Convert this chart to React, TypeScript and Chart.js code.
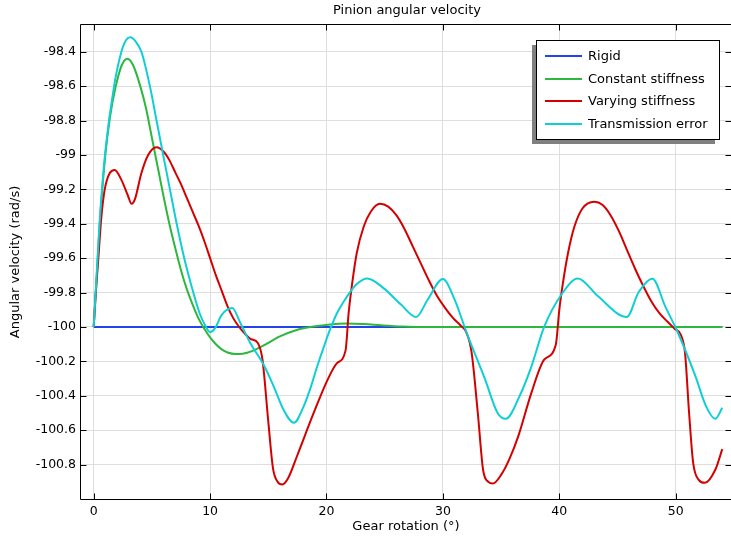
import React, { useEffect, useRef } from 'react';
import { Chart, registerables } from 'chart.js';

Chart.register(...registerables);

const chartTitle = 'Pinion angular velocity';
const xAxisTitle = 'Gear rotation (°)';
const yAxisTitle = 'Angular velocity (rad/s)';

const seriesNames = ['Rigid', 'Constant stiffness', 'Varying stiffness', 'Transmission error'];
const seriesColors = ['#2244ee', '#2db83d', '#d40000', '#10cfd4'];

const xTicks = [0, 10, 20, 30, 40, 50];
const yTicks = [-98.4, -98.6, -98.8, -99, -99.2, -99.4, -99.6, -99.8, -100, -100.2, -100.4, -100.6, -100.8];

const rigidX = [0, 54];
const rigidY = [-100, -100];

const constX = [0, 0.2, 0.5, 1.0, 1.4, 1.9, 2.4, 2.9, 3.4, 4.0, 4.5, 5.0, 5.5, 6.0, 6.5, 7.0, 7.5, 8.0, 8.5, 9.0, 9.5, 10.0, 10.5, 11.0, 11.5, 12.2, 12.8, 13.6, 14.6, 16.0, 17.5, 18.9, 20.3, 21.7, 23.2, 24.7, 26.5, 28, 54];
const constY = [-100, -99.78, -99.42, -99.0, -98.78, -98.6, -98.48, -98.44, -98.48, -98.6, -98.73, -98.9, -99.07, -99.24, -99.4, -99.54, -99.67, -99.78, -99.87, -99.95, -100.01, -100.06, -100.1, -100.13, -100.148, -100.157, -100.155, -100.14, -100.107, -100.055, -100.016, -99.997, -99.985, -99.98, -99.983, -99.99, -99.997, -100, -100];

const varyX = [0, 0.2, 0.37, 0.66, 0.95, 1.38, 1.81, 2.38, 2.96, 3.25, 3.53, 4.1, 4.68, 5.4, 6.0, 6.5, 7.0, 7.5, 8.0, 8.5, 9.0, 9.5, 10.0, 10.5, 11.0, 11.5, 12.0, 12.5, 13.0, 13.5, 14.1, 14.5, 15.0, 15.4, 15.8, 16.2, 16.7, 17.47, 18.9, 20.1, 20.9, 21.64, 21.9, 22.2, 22.6, 23.2, 23.8, 24.6, 25.3, 26.0, 26.7, 27.4, 28.1, 28.8, 29.5, 30.2, 30.9, 31.5, 32.0, 32.45, 33.0, 33.45, 33.9, 34.3, 35.0, 35.7, 36.5, 37.6, 38.7, 39.7, 40.0, 40.3, 40.75, 41.3, 42.0, 43.0, 43.7, 44.4, 45.1, 45.8, 46.5, 47.2, 47.9, 48.6, 49.3, 49.9, 50.43, 50.8, 51.15, 51.5, 52.0, 52.5, 53.4, 54];
const varyY = [-100, -99.78, -99.63, -99.36, -99.2, -99.105, -99.087, -99.145, -99.24, -99.284, -99.26, -99.105, -99.0, -98.955, -98.98, -99.03, -99.1, -99.17, -99.25, -99.33, -99.41, -99.5, -99.6, -99.7, -99.79, -99.88, -99.95, -100.0, -100.04, -100.07, -100.093, -100.19, -100.55, -100.82, -100.9, -100.916, -100.88, -100.75, -100.5, -100.306, -100.21, -100.136, -99.92, -99.75, -99.57, -99.416, -99.33, -99.284, -99.3, -99.35, -99.43, -99.53, -99.63, -99.73, -99.82, -99.89, -99.95, -99.99, -100.03, -100.14, -100.5, -100.83, -100.9, -100.91, -100.86, -100.77, -100.63, -100.383, -100.19, -100.103, -99.9, -99.75, -99.57, -99.416, -99.31, -99.272, -99.29, -99.35, -99.44, -99.55, -99.66, -99.76, -99.85, -99.92, -99.97, -100.01, -100.045, -100.15, -100.5, -100.79, -100.89, -100.906, -100.83, -100.71];

const transX = [0, 0.2, 0.5, 1.0, 1.75, 2.38, 2.8, 3.16, 3.6, 4.1, 4.83, 5.4, 5.97, 6.55, 7.13, 7.78, 8.56, 9.1, 9.57, 10.0, 10.4, 11.0, 11.9, 12.6, 13.45, 14.6, 15.46, 16.3, 17.2, 18.05, 18.6, 19.2, 19.8, 20.3, 20.9, 21.5, 22.1, 22.6, 23.5, 24.9, 26.4, 27.7, 28.7, 30.0, 31.0, 32.1, 33.6, 34.7, 35.4, 36.6, 37.6, 38.7, 40.2, 41.6, 43.3, 45.8, 46.8, 48.0, 49.1, 50.2, 51.7, 52.6, 53.4, 54];
const transY = [-100, -99.76, -99.4, -98.98, -98.6, -98.4, -98.33, -98.316, -98.34, -98.4, -98.6, -98.8, -99.0, -99.2, -99.4, -99.6, -99.8, -99.92, -99.99, -100.03, -100.01, -99.93, -99.89, -99.977, -100.093, -100.22, -100.345, -100.48, -100.557, -100.46, -100.36, -100.23, -100.11, -100.016, -99.92, -99.85, -99.79, -99.75, -99.718, -99.774, -99.87, -99.942, -99.84, -99.721, -99.84, -100.045, -100.3, -100.5, -100.534, -100.4, -100.23, -100.0, -99.81, -99.718, -99.82, -99.942, -99.8, -99.72, -99.88, -100.035, -100.287, -100.46, -100.534, -100.47];

const FONT = '"DejaVu Sans", sans-serif';

const zip = (xs: number[], ys: number[]) => xs.map((x, i) => ({ x, y: ys[i] }));

const framePlugin = {
  id: 'frameAndLegend',
  afterDraw(chart: any) {
    const { ctx, chartArea: a, scales } = chart;
    ctx.save();
    const L = Math.round(a.left) - 0.5;
    const T = Math.round(a.top) - 0.5;
    const R = Math.round(a.right) + 0.5;
    const B = Math.round(a.bottom) + 0.5;
    ctx.strokeStyle = '#000';
    ctx.lineWidth = 1;
    ctx.beginPath();
    ctx.rect(L, T, R - L, B - T);
    ctx.stroke();
    ctx.beginPath();
    for (const v of xTicks) {
      const px = Math.round(scales.x.getPixelForValue(v)) + 0.5;
      ctx.moveTo(px, B);
      ctx.lineTo(px, B - 6);
      ctx.moveTo(px, T);
      ctx.lineTo(px, T + 6);
    }
    for (const v of yTicks) {
      const py = Math.round(scales.y.getPixelForValue(v)) + 0.5;
      ctx.moveTo(L, py);
      ctx.lineTo(L + 6, py);
      ctx.moveTo(R, py);
      ctx.lineTo(R - 6, py);
    }
    ctx.stroke();

    // title
    ctx.fillStyle = '#000';
    ctx.font = '13px ' + FONT;
    ctx.textAlign = 'center';
    ctx.textBaseline = 'middle';
    ctx.fillText(chartTitle, (a.left + a.right) / 2 + 1, 11);

    // legend
    const bx = 536, by = 41, bw = 183, bh = 98;
    ctx.fillStyle = '#808080';
    ctx.fillRect(bx - 4, by + 4, bw, bh + 1);
    ctx.fillStyle = '#fff';
    ctx.fillRect(bx, by, bw, bh);
    ctx.strokeStyle = '#000';
    ctx.lineWidth = 1;
    ctx.strokeRect(bx + 0.5, by - 0.5, bw, bh + 1);
    const rowY = [56, 79, 101, 124];
    ctx.textAlign = 'left';
    ctx.textBaseline = 'middle';
    ctx.font = '13px ' + FONT;
    seriesNames.forEach((name, i) => {
      ctx.strokeStyle = seriesColors[i];
      ctx.lineWidth = 2;
      ctx.beginPath();
      ctx.moveTo(545, rowY[i]);
      ctx.lineTo(582, rowY[i]);
      ctx.stroke();
      ctx.fillStyle = '#000';
      ctx.fillText(name, 588, rowY[i] + 0.5);
    });
    ctx.restore();
  },
};

export default function App() {
  const ref = useRef<HTMLCanvasElement | null>(null);
  useEffect(() => {
    if (!ref.current) return;
    Chart.defaults.font.family = FONT;
    Chart.defaults.color = '#000';
    const xsList = [rigidX, constX, varyX, transX];
    const ysList = [rigidY, constY, varyY, transY];
    const orders = [4, 3, 2, 1];
    const chart = new Chart(ref.current, {
      type: 'line',
      data: {
        datasets: seriesNames.map((name, i) => ({
          label: name,
          data: zip(xsList[i], ysList[i]),
          borderColor: seriesColors[i],
          backgroundColor: seriesColors[i],
          borderWidth: 2,
          pointRadius: 0,
          fill: false,
          cubicInterpolationMode: 'monotone' as const,
          order: orders[i],
        })),
      },
      options: {
        responsive: false,
        animation: false,
        devicePixelRatio: 1,
        layout: { padding: { top: 25, left: 0, right: 0, bottom: 0 } },
        plugins: {
          legend: { display: false },
          title: { display: false },
          tooltip: { enabled: false },
        },
        scales: {
          x: {
            type: 'linear',
            min: -1.09,
            max: 54.75,
            afterFit: (s: any) => { s.height = 42; },
            afterBuildTicks: (s: any) => { s.ticks = xTicks.map((v) => ({ value: v })); },
            grid: { color: '#dedede', lineWidth: 1, drawTicks: false },
            border: { display: false },
            ticks: {
              autoSkip: false,
              maxRotation: 0,
              padding: 5,
              font: { size: 12.5 },
              callback: (v: any) => String(v),
            },
            title: {
              display: true,
              text: xAxisTitle,
              font: { size: 13 },
              padding: { top: 0, bottom: 6.5 },
            },
          },
          y: {
            type: 'linear',
            min: -101.0,
            max: -98.2445,
            afterFit: (s: any) => { s.width = 81; },
            afterBuildTicks: (s: any) => { s.ticks = yTicks.map((v) => ({ value: v })); },
            grid: { color: '#dedede', lineWidth: 1, drawTicks: false },
            border: { display: false },
            ticks: {
              padding: 5,
              font: { size: 12.5 },
              callback: (v: any) => String(Math.round(Number(v) * 10) / 10),
            },
            title: {
              display: true,
              text: yAxisTitle,
              font: { size: 13 },
              padding: { top: 8, bottom: 0 },
            },
          },
        },
      },
      plugins: [framePlugin],
    });
    return () => chart.destroy();
  }, []);
  return (
    <div style={{ position: 'absolute', left: 0, top: 0, width: 731, height: 541, background: '#fff' }}>
      <canvas ref={ref} width={731} height={541} style={{ display: 'block', width: 731, height: 541 }} />
    </div>
  );
}
